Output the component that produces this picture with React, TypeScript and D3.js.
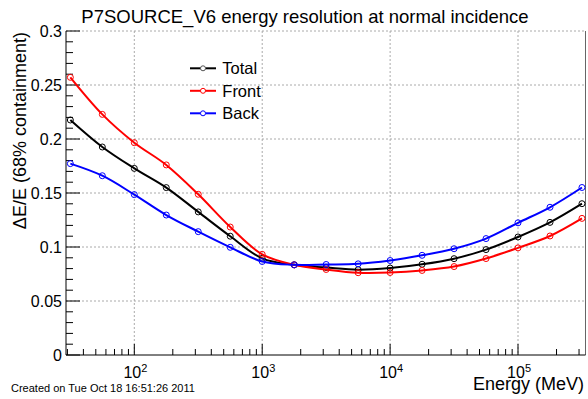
import React from "react";
import * as d3 from "d3";

const energies = [31.62, 56.23, 100, 177.8, 316.2, 562.3, 1000, 1778, 3162, 5623, 10000, 17783, 31623, 56234, 100000, 177828, 316228];
const totalRes = [0.2176, 0.1926, 0.1728, 0.155, 0.1325, 0.11, 0.0895, 0.0835, 0.081, 0.079, 0.0805, 0.084, 0.0892, 0.0976, 0.1093, 0.1228, 0.1401];
const frontRes = [0.2571, 0.2228, 0.1966, 0.176, 0.1488, 0.1185, 0.0932, 0.0835, 0.0792, 0.0762, 0.0764, 0.0783, 0.0819, 0.0893, 0.0992, 0.1102, 0.1265];
const backRes = [0.1772, 0.166, 0.1485, 0.1296, 0.1142, 0.0997, 0.0866, 0.0835, 0.0838, 0.0844, 0.0875, 0.0923, 0.0984, 0.1078, 0.1224, 0.1368, 0.1551];
const seriesNames = ["Total", "Front", "Back"];
const seriesColors = ["#000000", "#ff0000", "#0000ff"];
const yTicks = [0, 0.05, 0.1, 0.15, 0.2, 0.25, 0.3];
const xDecades = [2, 3, 4, 5];
const title = "P7SOURCE_V6 energy resolution at normal incidence";
const xTitle = "Energy (MeV)";
const yTitle = "ΔE/E (68% containment)";
const footer = "Created on Tue Oct 18 16:51:26 2011";

const W = 588, H = 399;
const L = 66, R = 585.5, T = 31, B = 355;
const FONT = "'Liberation Sans', Arial, Helvetica, sans-serif";

export default function App() {
  const x = d3.scaleLog().domain([29.24, 337000]).range([L, R]);
  const y = d3.scaleLinear().domain([0, 0.3]).range([B, T]);
  const all = [totalRes, frontRes, backRes];
  const line = d3
    .line<[number, number]>()
    .x((d) => x(d[0]))
    .y((d) => y(d[1]))
    .curve(d3.curveCatmullRom.alpha(0.5));

  const minorY: number[] = [];
  for (let i = 1; i < 30; i++) if (i % 5 !== 0) minorY.push(i / 100);

  const minorX: number[] = [];
  for (let e = 1; e <= 5; e++) {
    for (let m = 2; m <= 9; m++) {
      const v = m * Math.pow(10, e);
      if (v > 29.24 && v < 337000) minorX.push(v);
    }
  }

  return (
    <svg width={W} height={H} style={{ position: "absolute", left: 0, top: 0, background: "#fff" }} fontFamily={FONT}>
      <rect x={0} y={0} width={W} height={H} fill="#fff" />
      {/* grid */}
      {yTicks.filter((t) => t > 0).map((t) => (
        <line key={"gy" + t} x1={L} x2={R} y1={y(t)} y2={y(t)} stroke="#aaa" strokeWidth={1} strokeDasharray="2,2" />
      ))}
      {xDecades.map((e) => (
        <line key={"gx" + e} x1={x(Math.pow(10, e))} x2={x(Math.pow(10, e))} y1={T} y2={B} stroke="#aaa" strokeWidth={1} strokeDasharray="2,2" />
      ))}
      {/* frame right */}
      <line x1={R} x2={R} y1={T} y2={B} stroke="#666" strokeWidth={1} />
      {/* axes */}
      <line x1={L} x2={L} y1={T} y2={B} stroke="#000" strokeWidth={1} />
      <line x1={L} x2={R} y1={B} y2={B} stroke="#000" strokeWidth={1} />
      {yTicks.map((t) => (
        <g key={"yt" + t}>
          <line x1={L} x2={L + 14} y1={y(t)} y2={y(t)} stroke="#000" />
          <text x={62} y={y(t) + 5.7} textAnchor="end" fontSize={16}>{t === 0 ? "0" : String(t)}</text>
        </g>
      ))}
      {minorY.map((t) => (
        <line key={"ym" + t} x1={L} x2={L + 7} y1={y(t)} y2={y(t)} stroke="#000" />
      ))}
      {xDecades.map((e) => {
        const px = x(Math.pow(10, e));
        return (
          <g key={"xt" + e}>
            <line x1={px} x2={px} y1={B} y2={B - 11} stroke="#000" />
            <text x={px - 2} y={378} textAnchor="middle" fontSize={16}>10</text>
            <text x={px + 7} y={371.5} textAnchor="start" fontSize={11}>{e}</text>
          </g>
        );
      })}
      {minorX.map((v) => (
        <line key={"xm" + v} x1={x(v)} x2={x(v)} y1={B} y2={B - 6} stroke="#000" />
      ))}
      {/* series */}
      {all.map((vals, si) => {
        const pts: [number, number][] = energies.map((e, i) => [e, vals[i]]);
        return (
          <g key={"s" + si}>
            <path d={line(pts) || ""} fill="none" stroke={seriesColors[si]} strokeWidth={2} />
            {pts.map((p, i) => (
              <circle key={i} cx={x(p[0])} cy={y(p[1])} r={3} fill="none" stroke={seriesColors[si]} strokeWidth={1} />
            ))}
          </g>
        );
      })}
      {/* legend */}
      {seriesNames.map((n, i) => {
        const ly = 68.3 + i * 22.5;
        return (
          <g key={"lg" + i}>
            <line x1={190} x2={216} y1={ly} y2={ly} stroke={seriesColors[i]} strokeWidth={2} />
            <circle cx={203} cy={ly} r={2.5} fill="#fff" stroke={i === 0 ? "#555" : seriesColors[i]} strokeWidth={1} />
            <text x={222.3} y={ly + 6} fontSize={16.5}>{n}</text>
          </g>
        );
      })}
      {/* titles */}
      <text x={305} y={22.5} textAnchor="middle" fontSize={18.5}>{title}</text>
      <text x={584} y={390} textAnchor="end" fontSize={18}>{xTitle}</text>
      <text transform="translate(26,32) rotate(-90)" textAnchor="end" fontSize={18}>{yTitle}</text>
      <text x={11} y={392} fontSize={11}>{footer}</text>
    </svg>
  );
}
